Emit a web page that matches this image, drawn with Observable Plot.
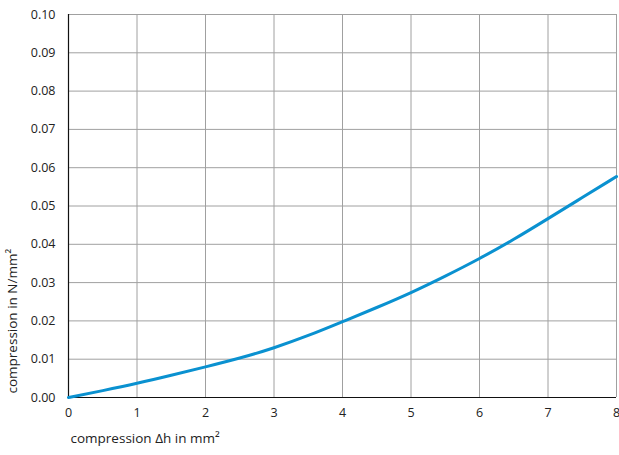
<!DOCTYPE html>
<html><head><meta charset="utf-8">
<script src="https://cdn.jsdelivr.net/npm/d3@7"></script>
<script src="https://cdn.jsdelivr.net/npm/@observablehq/plot@0.6"></script>
<style>body{margin:0;background:#fff}</style>
</head><body><div id="chart"></div>
<script>
const deltaH = [0, 0.5, 1, 1.5, 2, 2.5, 3, 3.5, 4, 4.5, 5, 5.5, 6, 6.5, 7, 7.5, 8];
const pressure = [0, 0.0018, 0.0037, 0.0058, 0.0080, 0.0103, 0.0130, 0.0162, 0.0198, 0.0235, 0.0274, 0.0317, 0.0363, 0.0413, 0.0467, 0.0522, 0.0577];
const xTicks = [0, 1, 2, 3, 4, 5, 6, 7, 8];
const yTicks = [0, 0.01, 0.02, 0.03, 0.04, 0.05, 0.06, 0.07, 0.08, 0.09, 0.10];
const xLabel = "compression Δh in mm²";
const yLabel = "compression in N/mm²";
const data = deltaH.map((x, i) => ({x, y: pressure[i]}));

const chart = Plot.plot({
  width: 619, height: 455,
  marginLeft: 68, marginRight: 3, marginTop: 14, marginBottom: 58,
  style: {fontFamily: "'Open Sans', sans-serif", fontSize: "12px", color: "#222"},
  x: {domain: [0, 8]},
  y: {domain: [0, 0.10]},
  marks: [
    Plot.gridX(xTicks, {stroke: "#a0a0a0", strokeOpacity: 1, strokeWidth: 1}),
    Plot.gridY(yTicks, {stroke: "#a0a0a0", strokeOpacity: 1, strokeWidth: 1}),
    Plot.axisX(xTicks, {tickSize: 0, tickPadding: 11, label: null, fontSize: 12.5}),
    Plot.axisY(yTicks, {tickSize: 0, tickPadding: 13, label: null, tickFormat: d3.format(".2f"), fontSize: 12.5}),
    Plot.ruleX([0], {stroke: "#111", strokeWidth: 1.2}),
    Plot.ruleY([0], {stroke: "#111", strokeWidth: 1.2}),
    Plot.line(data, {x: "x", y: "y", stroke: "#0a91d0", strokeWidth: 3, curve: "natural"}),
    Plot.text([yLabel], {frameAnchor: "bottom-left", dx: -52, dy: -4, rotate: -90, textAnchor: "start", fontSize: 13.5, fill: "#222"}),
    Plot.text([xLabel], {frameAnchor: "bottom-left", dx: 2, dy: 45, textAnchor: "start", fontSize: 13.5, fill: "#222"})
  ]
});
document.getElementById("chart").appendChild(chart);
</script>
</body></html>
